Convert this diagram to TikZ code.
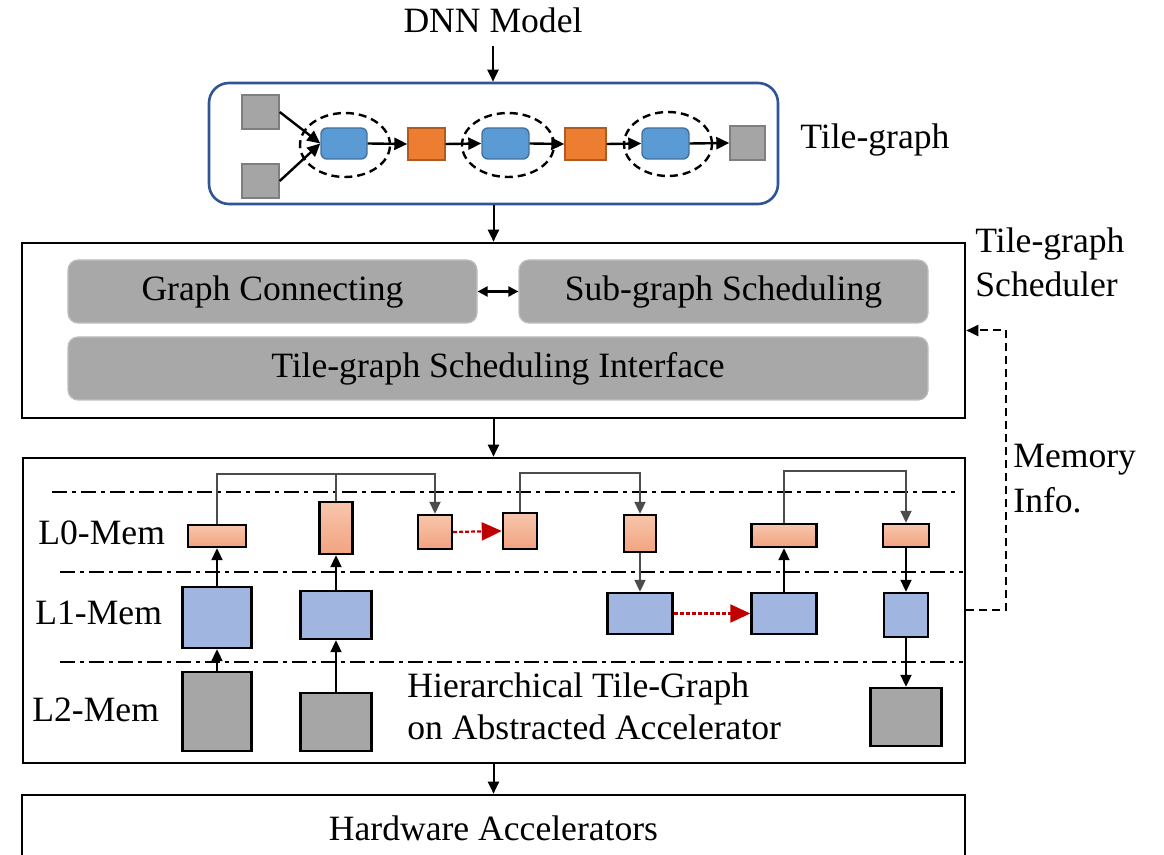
\documentclass[tikz,border=0pt]{standalone}
\usepackage{fontspec}
\setmainfont{Liberation Serif}
\usetikzlibrary{arrows.meta,shapes.geometric}

\definecolor{tgframe}{RGB}{47,85,151}
\definecolor{tgblue}{RGB}{91,155,213}
\definecolor{tgblueline}{RGB}{65,113,156}
\definecolor{tgorange}{RGB}{237,125,49}
\definecolor{tgorangeline}{RGB}{174,90,33}
\definecolor{tggray}{RGB}{165,165,165}
\definecolor{tggrayline}{RGB}{127,127,127}
\definecolor{schedgray}{RGB}{168,168,168}
\definecolor{schedline}{RGB}{190,190,190}
\definecolor{memorangetop}{RGB}{248,198,172}
\definecolor{memorangebot}{RGB}{241,163,128}
\definecolor{memblue}{RGB}{160,182,224}
\definecolor{memgray}{RGB}{166,166,166}
\definecolor{movered}{RGB}{192,0,0}

\begin{document}
\begin{tikzpicture}[x=0.5pt,y=-0.5pt,
  txt/.style={font=\fontsize{17.8}{21}\selectfont, inner sep=0pt},
  sz/.style 2 args={minimum width={#1*0.5pt}, minimum height={#2*0.5pt}},
  tip/.style={-{Triangle[length=6pt,width=5.5pt]}},
  arr/.style={line width=1pt, tip},
  darr/.style={line width=1.1pt, {Triangle[length=5pt,width=5pt]}-{Triangle[length=5pt,width=5pt]}},
  link/.style={line width=1pt, draw=black!70},
  linkarr/.style={link, tip},
  tgarr/.style={line width=1.2pt, -{Triangle[length=6.5pt,width=6pt]}},
  movearr/.style={line width=1.1pt, draw=movered, dash pattern=on 2pt off 1pt,
    -{Triangle[length=10pt,width=9pt,fill=movered]}},
  frame/.style={draw=black, line width=1.3pt, inner sep=0pt},
  tgnode/.style={line width=0.7pt, inner sep=0pt},
  tgb/.style={tgnode, fill=tgblue, draw=tgblueline, rounded corners=3pt},
  tgo/.style={tgnode, fill=tgorange, draw=tgorangeline},
  tgg/.style={tgnode, fill=tggray, draw=tggrayline},
  group/.style={ellipse, draw=black, line width=1.2pt, dash pattern=on 4pt off 2.5pt, inner sep=0pt},
  stage/.style={txt, fill=schedgray, draw=schedline, line width=0.6pt, rounded corners=5pt},
  memo/.style={draw=black, line width=1.2pt, inner sep=0pt, top color=memorangetop, bottom color=memorangebot},
  memb/.style={draw=black, line width=1.2pt, inner sep=0pt, fill=memblue},
  memg/.style={draw=black, line width=1.2pt, inner sep=0pt, fill=memgray},
  level/.style={line width=1.1pt, dash pattern=on 7.5pt off 2.5pt on 2pt off 2.5pt},
  memline/.style={line width=1pt, dash pattern=on 4pt off 2.5pt, tip}
]
\clip (0,0) rectangle (1164,855);
\fill[white] (0,0) rectangle (1164,855);

% ---------- input model ----------
\node[txt, anchor=base] (dnn) at (493,33) {DNN Model};

% ---------- tile-graph ----------
\node[draw=tgframe, line width=1.3pt, rounded corners=10pt, sz={569}{121}] (tg) at (493.5,143.5) {};
\node[tgg, sz={37}{34}] (g1) at (260.5,112) {};
\node[tgg, sz={37}{34}] (g2) at (260.5,181) {};
\node[tgb, sz={46}{31}] (b1) at (344,143.5) {};
\node[tgo, sz={37}{32}] (o1) at (426.5,144) {};
\node[tgb, sz={47}{31}] (b2) at (505.5,143.5) {};
\node[tgo, sz={41}{32}] (o2) at (585.5,144) {};
\node[tgb, sz={47}{31}] (b3) at (665.5,143.5) {};
\node[tgg, sz={35}{34}] (g3) at (747.5,143) {};
\node[group, sz={90}{64}] (e1) at (345,145) {};
\node[group, sz={92}{64}] (e2) at (508,145) {};
\node[group, sz={88}{64}] (e3) at (668,144) {};
\draw[tgarr] (g1.east) -- (b1.west);
\draw[tgarr] (g2.east) -- (b1.west);
\draw[tgarr] (b1.east) -- (o1.west);
\draw[tgarr] (o1.east) -- (b2.west);
\draw[tgarr] (b2.east) -- (o2.west);
\draw[tgarr] (o2.east) -- (b3.west);
\draw[tgarr] (b3.east) -- (g3.west);
\node[txt, anchor=west] (tglabel) at (800,140) {Tile-graph};

% ---------- scheduler ----------
\node[frame, sz={943}{175}] (sched) at (493.5,330.5) {};
\node[stage, sz={409}{63}] (gc) at (272.5,291.5) {Graph Connecting};
\node[stage, sz={409}{63}] (sg) at (723.5,291.5) {Sub-graph Scheduling};
\node[stage, sz={860}{63}] (ti) at (498,368.5) {Tile-graph Scheduling Interface};
\draw[darr] (gc.east) -- (sg.west);
\node[txt, anchor=base west] (schedA) at (975,253) {Tile-graph};
\node[txt, anchor=base west] (schedB) at (975,297) {Scheduler};

% ---------- hierarchical tile-graph ----------
\node[frame, sz={942}{305}] (hier) at (494,610.5) {};
\draw[level] (52,492) -- (955,492);
\draw[level] (60,572) -- (963,572);
\draw[level] (60,662) -- (963,662);
\node[txt, anchor=base west] (l0) at (38,545) {L0-Mem};
\node[txt, anchor=base west] (l1) at (35,625) {L1-Mem};
\node[txt, anchor=base west] (l2) at (32,722) {L2-Mem};
\node[txt, anchor=base west] (hA) at (407,698) {Hierarchical Tile-Graph};
\node[txt, anchor=base west] (hB) at (407,740) {on Abstracted Accelerator};

% L0 tiles
\node[memo, sz={58}{22}] (oA) at (217,536) {};
\node[memo, sz={33}{52}] (oB) at (336,528) {};
\node[memo, sz={34}{34}] (oC) at (435,532) {};
\node[memo, sz={34}{36}] (oD) at (520,531) {};
\node[memo, sz={32}{37}] (oE) at (640,533.5) {};
\node[memo, sz={65}{23}] (oF) at (784,535.5) {};
\node[memo, sz={46}{23}] (oG) at (906,535.5) {};
% L1 tiles
\node[memb, sz={69}{61}] (bA) at (217,617.5) {};
\node[memb, sz={71}{48}] (bB) at (336,615) {};
\node[memb, sz={65}{41}] (bC) at (640,613.5) {};
\node[memb, sz={65}{41}] (bD) at (784,613.5) {};
\node[memb, sz={44}{44}] (bE) at (906,615) {};
% L2 tiles
\node[memg, sz={69}{79}] (gA) at (217,711.5) {};
\node[memg, sz={71}{58}] (gB) at (336,722) {};
\node[memg, sz={71}{58}] (gC) at (906,717) {};

\coordinate (busL) at (217,474);
\coordinate (busM) at (520,473);
\coordinate (busR) at (784,471);

% loads towards L0
\draw[arr] (gA.north) -- (bA.south);
\draw[arr] (bA.north) -- (oA.south);
\draw[arr] (gB.north) -- (bB.south);
\draw[arr] (bB.north) -- (oB.south);
\draw[arr] (bD.north) -- (oF.south);
% tile-to-tile links in L0
\draw[linkarr] (oA.north) -- (oA.north |- busL) -| (oC.north);
\draw[link] (oB.north) -- (oB.north |- busL);
\draw[linkarr] (oD.north) -- (oD.north |- busM) -| (oE.north);
\draw[linkarr] (oF.north) -- (oF.north |- busR) -| (oG.north);
% stores downwards
\draw[linkarr] (oE.south) -- (bC.north);
\draw[arr] (oG.south) -- (bE.north);
\draw[arr] (bE.south) -- (gC.north);
% moves inside a level
\draw[movearr] (oC.east) -- (oD.west);
\draw[movearr] (bC.east) -- (bD.west);

% memory feedback
\draw[memline] (hier.east) -- ++(40,0) |- (sched.east);
\node[txt, anchor=base west] (miA) at (1013,468) {Memory};
\node[txt, anchor=base west] (miB) at (1013,513) {Info.};

% ---------- hardware ----------
\node[frame, txt, sz={943}{66}] (hw) at (493.5,828) {Hardware Accelerators};

% ---------- main flow ----------
\draw[arr] ([yshift=-6pt]dnn.south) -- (dnn.south |- tg.north);
\draw[arr] (tg.south) -- (sched.north);
\draw[arr] (sched.south) -- (hier.north -| sched.south);
\draw[arr] (hier.south -| sched.south) -- (hw.north);
\end{tikzpicture}
\end{document}
